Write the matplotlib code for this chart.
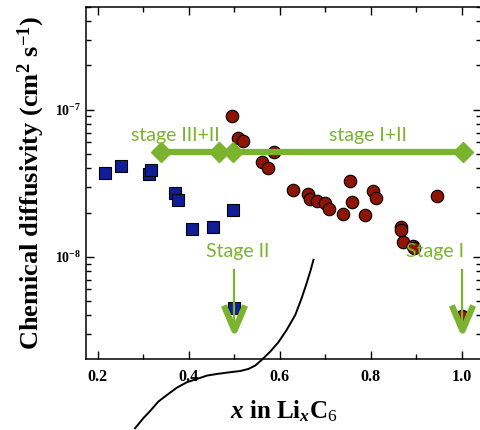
import numpy as np
import matplotlib
matplotlib.use("Agg")
import matplotlib.pyplot as plt
from matplotlib.path import Path
from matplotlib.ticker import LogLocator, NullFormatter, FixedLocator

plt.rcParams["font.family"] = ["Liberation Serif", "DejaVu Serif"]
plt.rcParams["mathtext.fontset"] = "custom"
plt.rcParams["mathtext.rm"] = "Liberation Serif"
plt.rcParams["mathtext.it"] = "Liberation Serif:italic:bold"
plt.rcParams["mathtext.bf"] = "Liberation Serif:bold"

# ---- data ----
x_stage2 = [0.216, 0.251, 0.313, 0.317, 0.370, 0.376, 0.407, 0.453, 0.497, 0.500]
d_stage2 = [3.73e-8, 4.16e-8, 3.67e-8, 3.91e-8, 2.72e-8, 2.44e-8, 1.55e-8, 1.60e-8, 2.09e-8, 4.50e-9]

x_stage1 = [0.495, 0.508, 0.519, 0.587, 0.561, 0.574, 0.629, 0.662, 0.667, 0.682,
            0.700, 0.708, 0.739, 0.755, 0.759, 0.788, 0.805, 0.812, 0.946, 0.867,
            0.867, 0.871, 0.893, 0.895, 1.001]
d_stage1 = [9.1e-8, 6.45e-8, 6.15e-8, 5.17e-8, 4.43e-8, 4.03e-8, 2.86e-8, 2.68e-8, 2.48e-8, 2.41e-8,
            2.33e-8, 2.12e-8, 1.96e-8, 3.29e-8, 2.37e-8, 1.93e-8, 2.81e-8, 2.52e-8, 2.60e-8, 1.60e-8,
            1.53e-8, 1.26e-8, 1.19e-8, 1.15e-8, 3.97e-9]

# stage ranges (horizontal bars)
range_32 = [0.340, 0.467]
range_12 = [0.498, 1.003]
range_level = 5.18e-8
range_labels = ["stage III+II", "stage I+II"]
range_label_x = [0.370, 0.794]
range_label_y = 6.15e-8

# stage markers (arrows)
arrow_x = [0.500, 1.000]
arrow_top = 8.2e-9
arrow_tip = 3.2e-9
arrow_labels = ["Stage II", "Stage I"]
arrow_label_x = [0.507, 0.942]
arrow_label_y = 1.0e-8

# overlaid voltage-like curve (sketch), in data units
curve_x = [0.282, 0.300, 0.315, 0.333, 0.352, 0.374, 0.396, 0.418, 0.440, 0.462, 0.491, 0.513,
           0.531, 0.546, 0.560, 0.579, 0.597, 0.615, 0.634, 0.648, 0.659, 0.668, 0.674]
curve_logd = [-9.165, -9.097, -9.048, -8.984, -8.939, -8.889, -8.852, -8.830, -8.807, -8.796,
              -8.784, -8.776, -8.762, -8.739, -8.701, -8.644, -8.580, -8.497, -8.395, -8.281,
              -8.179, -8.088, -8.020]

GREEN = "#7ab32e"
SANS = ["Lato", "DejaVu Sans"]

fig = plt.figure(figsize=(4.8, 4.3), dpi=100)
ax = fig.add_axes([0.179, 0.165, 0.823, 0.819])
ax.set_yscale("log")
ax.set_xlim(0.174, 1.042)
ax.set_ylim(2.02e-9, 5.0e-7)

ax.plot(x_stage2, d_stage2, "s", ms=8, mfc="#0f1e96", mec="black", mew=0.8, zorder=3)
ax.plot(x_stage1, d_stage1, "o", ms=9, mfc="#8c1505", mec="black", mew=0.8, zorder=3)

for r in (range_32, range_12):
    ax.plot(r, [range_level, range_level], "-", color=GREEN, lw=4.5, marker="D", ms=10,
            mfc=GREEN, mec=GREEN, zorder=4)
for xl, lab in zip(range_label_x, range_labels):
    ax.text(xl, range_label_y, lab, color=GREEN, fontsize=14, family=SANS,
            ha="center", va="baseline", zorder=5)

# open chevron head, tip at the marker position
chev = Path([(-0.85, 2), (0, 0), (0.85, 2)], [Path.MOVETO, Path.LINETO, Path.LINETO])
for xa in arrow_x:
    ax.plot([xa, xa], [arrow_top, arrow_tip], "-", color=GREEN, lw=1.6, zorder=5)
    ax.plot([xa], [arrow_tip], marker=chev, ms=36, mfc="none", mec=GREEN, mew=4.5,
            zorder=5, clip_on=False)
for xl, lab in zip(arrow_label_x, arrow_labels):
    ax.text(xl, arrow_label_y, lab, color=GREEN, fontsize=14, family=SANS,
            ha="center", va="baseline", zorder=5)

ax.plot(curve_x, 10 ** np.array(curve_logd), "-", color="black", lw=1.4, clip_on=False, zorder=6)

ax.xaxis.set_major_locator(FixedLocator([0.2, 0.4, 0.6, 0.8, 1.0]))
ax.xaxis.set_minor_locator(FixedLocator([0.3, 0.5, 0.7, 0.9]))
ax.set_xticklabels(["0.2", "0.4", "0.6", "0.8", "1.0"])
ax.yaxis.set_minor_locator(LogLocator(base=10, subs=np.arange(2, 10), numticks=10))
ax.yaxis.set_minor_formatter(NullFormatter())
ax.set_yticks([1e-8, 1e-7])
ax.set_yticklabels([r"$\mathbf{10^{-8}}$", r"$\mathbf{10^{-7}}$"])

ax.tick_params(which="both", direction="in", top=True, right=True, width=1.0)
ax.tick_params(which="major", length=6)
ax.tick_params(which="minor", length=3.5)
ax.tick_params(axis="x", labelsize=11.5, pad=7)
ax.tick_params(axis="y", labelsize=10)
for lbl in ax.get_xticklabels() + ax.get_yticklabels():
    lbl.set_fontweight("bold")
for sp in ax.spines.values():
    sp.set_linewidth(1.1)

ax.set_xlabel(r"$x$ in Li$_x$C$_6$", fontsize=18, fontweight="bold", labelpad=10)
ax.set_ylabel(r"Chemical diffusivity (cm$^{\mathbf{2}}$ s$^{\mathbf{-1}}$)", fontsize=19,
              fontweight="bold", labelpad=6)

fig.savefig("out.png", dpi=100)
